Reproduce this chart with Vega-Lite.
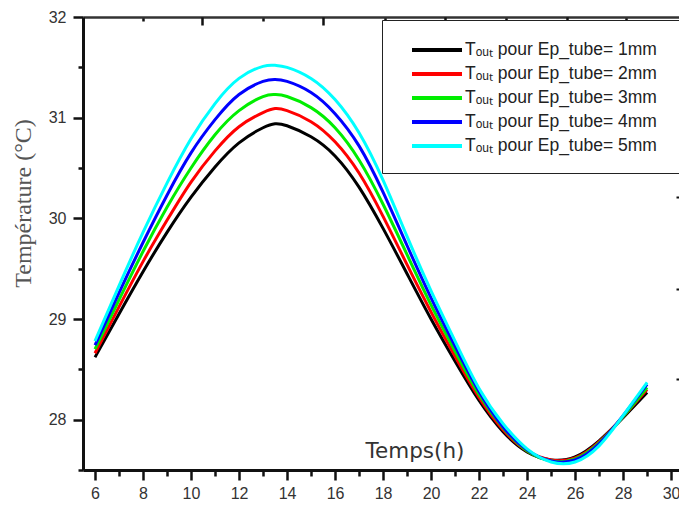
{
  "$schema": "https://vega.github.io/schema/vega-lite/v6.json",
  "width": 596,
  "height": 453,
  "autosize": {"type": "none"},
  "padding": {"left": 83, "top": 17, "right": 0, "bottom": 36},
  "background": "white",
  "config": {
    "view": {"stroke": null},
    "axis": {"grid": false, "labelFont": "Liberation Sans", "labelFontSize": 16, "labelColor": "#333333", "tickColor": "#111111", "domainColor": "#111111", "tickWidth": 2.5, "domainWidth": 3}
  },
  "data": {"values": [
    {"h":6,"T":28.62,"e":"1mm"},{"h":7,"T":29.05,"e":"1mm"},{"h":8,"T":29.47,"e":"1mm"},{"h":9,"T":29.86,"e":"1mm"},{"h":10,"T":30.21,"e":"1mm"},{"h":11,"T":30.51,"e":"1mm"},{"h":12,"T":30.75,"e":"1mm"},{"h":13,"T":30.90,"e":"1mm"},{"h":13.5,"T":30.94,"e":"1mm"},{"h":14,"T":30.92,"e":"1mm"},{"h":15,"T":30.81,"e":"1mm"},{"h":16,"T":30.62,"e":"1mm"},{"h":17,"T":30.31,"e":"1mm"},{"h":18,"T":29.90,"e":"1mm"},{"h":19,"T":29.45,"e":"1mm"},{"h":20,"T":29.00,"e":"1mm"},{"h":21,"T":28.58,"e":"1mm"},{"h":22,"T":28.19,"e":"1mm"},{"h":23,"T":27.88,"e":"1mm"},{"h":24,"T":27.68,"e":"1mm"},{"h":25,"T":27.60,"e":"1mm"},{"h":26,"T":27.63,"e":"1mm"},{"h":27,"T":27.79,"e":"1mm"},{"h":28,"T":28.02,"e":"1mm"},{"h":29,"T":28.27,"e":"1mm"},
    {"h":6,"T":28.66,"e":"2mm"},{"h":7,"T":29.12,"e":"2mm"},{"h":8,"T":29.57,"e":"2mm"},{"h":9,"T":29.98,"e":"2mm"},{"h":10,"T":30.36,"e":"2mm"},{"h":11,"T":30.67,"e":"2mm"},{"h":12,"T":30.91,"e":"2mm"},{"h":13,"T":31.05,"e":"2mm"},{"h":13.5,"T":31.09,"e":"2mm"},{"h":14,"T":31.07,"e":"2mm"},{"h":15,"T":30.96,"e":"2mm"},{"h":16,"T":30.76,"e":"2mm"},{"h":17,"T":30.45,"e":"2mm"},{"h":18,"T":30.02,"e":"2mm"},{"h":19,"T":29.54,"e":"2mm"},{"h":20,"T":29.07,"e":"2mm"},{"h":21,"T":28.63,"e":"2mm"},{"h":22,"T":28.22,"e":"2mm"},{"h":23,"T":27.90,"e":"2mm"},{"h":24,"T":27.69,"e":"2mm"},{"h":25,"T":27.60,"e":"2mm"},{"h":26,"T":27.62,"e":"2mm"},{"h":27,"T":27.78,"e":"2mm"},{"h":28,"T":28.03,"e":"2mm"},{"h":29,"T":28.30,"e":"2mm"},
    {"h":6,"T":28.70,"e":"3mm"},{"h":7,"T":29.19,"e":"3mm"},{"h":8,"T":29.67,"e":"3mm"},{"h":9,"T":30.11,"e":"3mm"},{"h":10,"T":30.50,"e":"3mm"},{"h":11,"T":30.83,"e":"3mm"},{"h":12,"T":31.07,"e":"3mm"},{"h":13,"T":31.21,"e":"3mm"},{"h":13.5,"T":31.23,"e":"3mm"},{"h":14,"T":31.21,"e":"3mm"},{"h":15,"T":31.10,"e":"3mm"},{"h":16,"T":30.90,"e":"3mm"},{"h":17,"T":30.58,"e":"3mm"},{"h":18,"T":30.14,"e":"3mm"},{"h":19,"T":29.64,"e":"3mm"},{"h":20,"T":29.14,"e":"3mm"},{"h":21,"T":28.68,"e":"3mm"},{"h":22,"T":28.25,"e":"3mm"},{"h":23,"T":27.92,"e":"3mm"},{"h":24,"T":27.69,"e":"3mm"},{"h":25,"T":27.59,"e":"3mm"},{"h":26,"T":27.61,"e":"3mm"},{"h":27,"T":27.77,"e":"3mm"},{"h":28,"T":28.03,"e":"3mm"},{"h":29,"T":28.32,"e":"3mm"},
    {"h":6,"T":28.74,"e":"4mm"},{"h":7,"T":29.26,"e":"4mm"},{"h":8,"T":29.76,"e":"4mm"},{"h":9,"T":30.23,"e":"4mm"},{"h":10,"T":30.65,"e":"4mm"},{"h":11,"T":30.98,"e":"4mm"},{"h":12,"T":31.23,"e":"4mm"},{"h":13,"T":31.36,"e":"4mm"},{"h":13.5,"T":31.38,"e":"4mm"},{"h":14,"T":31.36,"e":"4mm"},{"h":15,"T":31.25,"e":"4mm"},{"h":16,"T":31.04,"e":"4mm"},{"h":17,"T":30.72,"e":"4mm"},{"h":18,"T":30.26,"e":"4mm"},{"h":19,"T":29.73,"e":"4mm"},{"h":20,"T":29.21,"e":"4mm"},{"h":21,"T":28.73,"e":"4mm"},{"h":22,"T":28.28,"e":"4mm"},{"h":23,"T":27.93,"e":"4mm"},{"h":24,"T":27.70,"e":"4mm"},{"h":25,"T":27.59,"e":"4mm"},{"h":26,"T":27.60,"e":"4mm"},{"h":27,"T":27.76,"e":"4mm"},{"h":28,"T":28.04,"e":"4mm"},{"h":29,"T":28.35,"e":"4mm"},
    {"h":6,"T":28.78,"e":"5mm"},{"h":7,"T":29.33,"e":"5mm"},{"h":8,"T":29.86,"e":"5mm"},{"h":9,"T":30.35,"e":"5mm"},{"h":10,"T":30.79,"e":"5mm"},{"h":11,"T":31.14,"e":"5mm"},{"h":12,"T":31.39,"e":"5mm"},{"h":13,"T":31.51,"e":"5mm"},{"h":13.5,"T":31.52,"e":"5mm"},{"h":14,"T":31.50,"e":"5mm"},{"h":15,"T":31.39,"e":"5mm"},{"h":16,"T":31.18,"e":"5mm"},{"h":17,"T":30.85,"e":"5mm"},{"h":18,"T":30.38,"e":"5mm"},{"h":19,"T":29.82,"e":"5mm"},{"h":20,"T":29.28,"e":"5mm"},{"h":21,"T":28.78,"e":"5mm"},{"h":22,"T":28.31,"e":"5mm"},{"h":23,"T":27.96,"e":"5mm"},{"h":24,"T":27.71,"e":"5mm"},{"h":25,"T":27.58,"e":"5mm"},{"h":26,"T":27.58,"e":"5mm"},{"h":27,"T":27.74,"e":"5mm"},{"h":28,"T":28.04,"e":"5mm"},{"h":29,"T":28.37,"e":"5mm"}
  ]},
  "resolve": {"scale": {"x": "shared", "y": "shared"}, "axis": {"x": "independent", "y": "independent"}},
  "layer": [
    {
      "mark": {"type": "line", "strokeOpacity": 0},
      "encoding": {
        "x": {"field": "h", "type": "quantitative", "scale": {"domain": [5.5, 30.33], "nice": false, "zero": false},
              "axis": {"orient": "bottom", "values": [7,9,11,13,15,17,19,21,23,25,27,29], "tickSize": 6, "labels": false, "domain": false, "title": null}},
        "y": {"field": "T", "type": "quantitative", "scale": {"domain": [27.5, 32], "nice": false, "zero": false},
              "axis": {"orient": "left", "values": [27.5,28.5,29.5,30.5,31.5], "tickSize": 5, "labels": false, "domain": false, "title": null}},
        "detail": {"field": "e"}
      }
    },
    {
      "mark": {"type": "line", "strokeOpacity": 0},
      "encoding": {
        "x": {"field": "h", "type": "quantitative",
              "axis": {"orient": "top", "values": [8.0, 13.0, 18.08, 23.13, 28.13], "tickSize": -4, "labels": false, "domain": true, "domainColor": "#333333", "domainWidth": 2.5, "title": null}},
        "y": {"field": "T", "type": "quantitative",
              "axis": {"orient": "right", "values": [31.1, 30.21, 29.3, 28.4], "tickSize": -3, "tickWidth": 2, "labels": false, "domain": false, "title": null}},
        "detail": {"field": "e"}
      }
    },
    {
      "mark": {"type": "line", "strokeOpacity": 0},
      "encoding": {
        "x": {"field": "h", "type": "quantitative",
              "axis": {"orient": "top", "values": [10.46, 15.5, 20.58, 25.67], "tickSize": -8, "labels": false, "domain": false, "title": null}},
        "y": {"field": "T", "type": "quantitative", "axis": null},
        "detail": {"field": "e"}
      }
    },
    {
      "mark": {"type": "line", "strokeWidth": 3, "interpolate": "natural"},
      "encoding": {
        "x": {"field": "h", "type": "quantitative",
              "axis": {"orient": "bottom", "values": [6,8,10,12,14,16,18,20,22,24,26,28,30], "tickSize": 10, "labelPadding": 5,
                       "title": "Temps(h)", "titleFont": "DejaVu Sans", "titleFontSize": 21.5, "titleFontWeight": "normal", "titleColor": "#333333",
                       "titleX": 282, "titleY": -13, "titleAlign": "left", "titleBaseline": "alphabetic", "titleAnchor": null}},
        "y": {"field": "T", "type": "quantitative",
              "axis": {"orient": "left", "values": [28,29,30,31,32], "tickSize": 10, "labelPadding": 7,
                       "title": "Température (°C)", "titleFont": "Liberation Serif", "titleFontSize": 24, "titleFontWeight": "normal", "titleColor": "#555555",
                       "titleX": -60, "titleY": 186, "titleAngle": -90, "titleAlign": "center", "titleBaseline": "middle", "titleAnchor": null}},
        "color": {"field": "e", "type": "nominal",
                  "scale": {"domain": ["1mm","2mm","3mm","4mm","5mm"], "range": ["#000000","#ff0000","#00ee00","#0000ff","#00ffff"]},
                  "legend": {"orient": "none", "legendX": 299, "legendY": 3, "title": null,
                             "labelExpr": "'Tₒᵤₜ pour Ep_tube= ' + datum.label + '\u2800'",
                             "symbolType": "M-2.5,0H2.5", "symbolSize": 400, "symbolStrokeWidth": 4, "symbolOffset": 25,
                             "labelFont": "Liberation Sans", "labelFontSize": 17.5, "labelColor": "#222222", "labelOffset": 16, "labelLimit": 500,
                             "rowPadding": 3, "padding": 18, "strokeColor": "#222222", "fillColor": "white"}}
      }
    }
  ]
}
